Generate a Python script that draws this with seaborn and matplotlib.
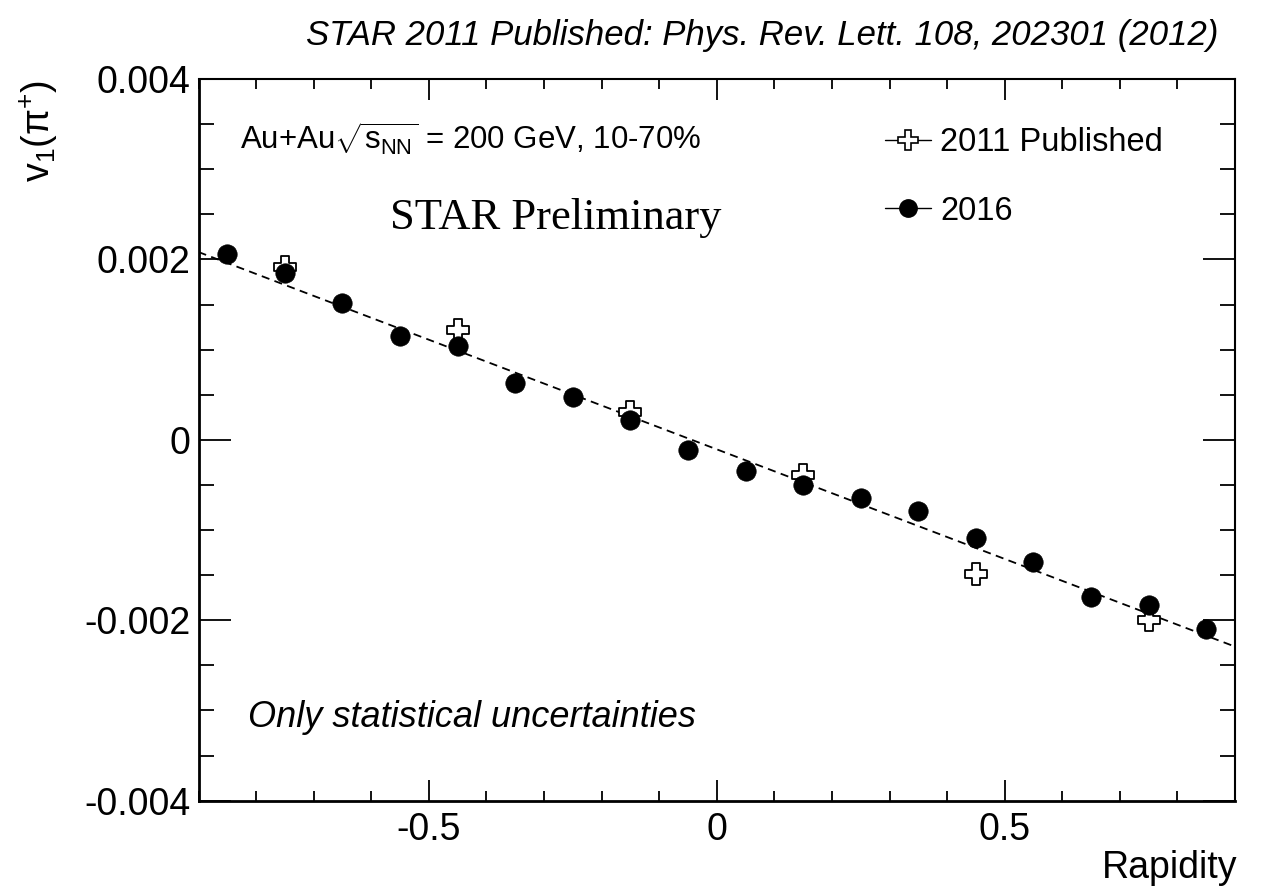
import numpy as np
import pandas as pd
import matplotlib
matplotlib.use("Agg")
import matplotlib.pyplot as plt
from matplotlib.lines import Line2D
from matplotlib.ticker import FixedLocator, MultipleLocator, FixedFormatter
import seaborn as sns

# ---------------- data ----------------
rap_2016 = [-0.85, -0.75, -0.65, -0.55, -0.45, -0.35, -0.25, -0.15, -0.05,
            0.05, 0.15, 0.25, 0.35, 0.45, 0.55, 0.65, 0.75, 0.85]
v1_2016 = [0.00206, 0.00185, 0.00152, 0.00115, 0.00104, 0.00063, 0.00047,
           0.00022, -0.00011, -0.00035, -0.00050, -0.00064, -0.00079,
           -0.00109, -0.00135, -0.00174, -0.00183, -0.00210]

rap_2011 = [-0.75, -0.45, -0.15, 0.15, 0.45, 0.75]
v1_2011 = [0.00192, 0.00122, 0.00031, -0.00039, -0.00149, -0.00200]

fit_x = [-0.9, 0.895]
fit_slope = -0.00243
fit_intercept = -0.000105

xticks = [-0.5, 0.0, 0.5]
xtick_labels = ["-0.5", "0", "0.5"]
yticks = [-0.004, -0.002, 0.0, 0.002, 0.004]
ytick_labels = ["-0.004", "-0.002", "0", "0.002", "0.004"]

legend_labels = ["2011 Published", "2016"]

# ---------------- style ----------------
sns.set_style("ticks")
plt.rcParams['font.family'] = ['Liberation Sans', 'DejaVu Sans']
plt.rcParams['mathtext.fontset'] = 'custom'
plt.rcParams['mathtext.rm'] = 'Liberation Sans'
plt.rcParams['mathtext.it'] = 'Liberation Sans:italic'
plt.rcParams['mathtext.sf'] = 'Liberation Sans'
plt.rcParams['axes.unicode_minus'] = False
for key in ['text.color', 'axes.labelcolor', 'xtick.color', 'ytick.color',
            'axes.edgecolor', 'xtick.labelcolor', 'ytick.labelcolor']:
    plt.rcParams[key] = 'black'

W, H = 1262, 888
fig = plt.figure(figsize=(W / 100, H / 100), dpi=100)
ax = fig.add_axes([198.5 / W, 1 - 800.7 / H, (1235 - 198.5) / W, (800.7 - 79) / H])

df16 = pd.DataFrame({"rap": rap_2016, "v1": v1_2016})
df11 = pd.DataFrame({"rap": rap_2011, "v1": v1_2011})
fit_y = [fit_intercept + fit_slope * x for x in fit_x]
dffit = pd.DataFrame({"rap": fit_x, "v1": fit_y})

sns.lineplot(data=dffit, x="rap", y="v1", ax=ax, color="black", lw=1.3,
             linestyle=(0, (4.5, 3)), zorder=1)
sns.scatterplot(data=df11, x="rap", y="v1", ax=ax, marker="P", s=270,
                facecolor="white", edgecolor="black", linewidth=1.3, zorder=2)
sns.scatterplot(data=df16, x="rap", y="v1", ax=ax, marker="o", s=195,
                color="black", edgecolor="black", linewidth=0.5, zorder=3)

ax.set_xlim(-0.9, 0.9)
ax.set_ylim(-0.004, 0.004)
ax.set_xlabel("")
ax.set_ylabel("")

ax.xaxis.set_major_locator(FixedLocator(xticks))
ax.xaxis.set_major_formatter(FixedFormatter(xtick_labels))
ax.xaxis.set_minor_locator(MultipleLocator(0.1))
ax.yaxis.set_major_locator(FixedLocator(yticks))
ax.yaxis.set_major_formatter(FixedFormatter(ytick_labels))
ax.yaxis.set_minor_locator(MultipleLocator(0.0005))

ax.tick_params(axis='both', which='both', direction='in', top=True, right=True,
               color='black', labelcolor='black', width=1.3)
ax.tick_params(axis='x', which='major', length=15, labelsize=27, pad=8)
ax.tick_params(axis='x', which='minor', length=7.5)
ax.tick_params(axis='y', which='major', length=23, labelsize=27, pad=6)
ax.tick_params(axis='y', which='minor', length=11)
for side, sp in ax.spines.items():
    sp.set_visible(True)
    sp.set_color('black')
    sp.set_linewidth(2.0 if side in ('left', 'bottom') else 1.5)

# legend
handles = [
    Line2D([], [], color='black', lw=1.0, marker='P', markersize=14,
           markerfacecolor='white', markeredgecolor='black', markeredgewidth=1.2),
    Line2D([], [], color='black', lw=1.0, marker='o', markersize=12.5,
           markerfacecolor='black', markeredgecolor='black'),
]
leg = fig.legend(handles, legend_labels, loc='upper left',
                 bbox_to_anchor=(885 / W, 1 - 127 / H), frameon=False,
                 fontsize=23.5, handlelength=1.4, handletextpad=0.3,
                 labelspacing=1.15, borderpad=0, borderaxespad=0)

# texts
fig.text(1218 / W, 1 - 45 / H,
         "STAR 2011 Published: Phys. Rev. Lett. 108, 202301 (2012)",
         ha='right', va='baseline', fontsize=25, style='italic')
fig.text(240 / W, 1 - 150 / H,
         r"Au+Au$\sqrt{\mathregular{s}_{\mathregular{NN}}}$ = 200 GeV, 10-70%",
         ha='left', va='baseline', fontsize=22.5)
fig.text(390 / W, 1 - 229 / H, "STAR Preliminary",
         family=['Liberation Serif', 'DejaVu Serif'], ha='left', va='baseline',
         fontsize=32)
fig.text(248 / W, 1 - 727 / H, "Only statistical uncertainties",
         ha='left', va='baseline', fontsize=26, style='italic')
fig.text(1237 / W, 1 - 878 / H, "Rapidity", ha='right', va='baseline',
         fontsize=27)
fig.text(60 / W, 1 - 80 / H, "v$_\\mathregular{1}$(π$^\\mathregular{+}$)",
         rotation=90, ha='right', va='top', fontsize=27)

fig.savefig("out.png", dpi=100)
